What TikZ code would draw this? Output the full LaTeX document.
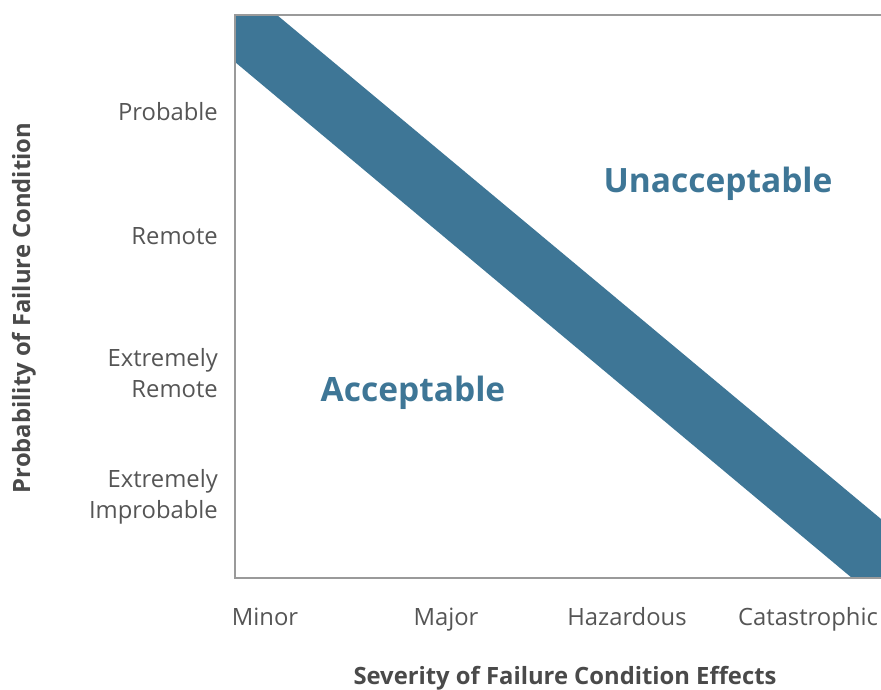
\documentclass[tikz,border=0pt]{standalone}
\usepackage{fontspec}
\setmainfont{Open Sans}
\usetikzlibrary{positioning}
\definecolor{bandblue}{HTML}{3E7696}
\definecolor{framegray}{HTML}{9A9A9A}
\definecolor{textgray}{HTML}{555555}
\definecolor{titlegray}{HTML}{4A4A4A}
\tikzset{
	level/.style = {text = textgray, font = \fontsize{23.8}{31}\selectfont, inner sep = 0pt},
	axistitle/.style = {text = titlegray, font = \fontsize{23.8}{28}\bfseries\selectfont, inner sep = 0pt},
	region/.style = {text = bandblue, font = \fontsize{33.5}{40}\bfseries\selectfont, inner sep = 0pt}
}

\begin{document}
\begin{tikzpicture}[x = 1pt, y = -1pt]
\useasboundingbox (0, 0) rectangle (881, 689);

% band between the two regions
\fill[bandblue] (235, 15) -- (277, 15) -- (881, 519) -- (881, 578) 
-- (852, 578) -- (235, 62) -- cycle;

% frame
\draw[framegray, line width = 2.5pt] (881, 15) -- (235, 15) -- (235, 578) -- (881, 578);

% probability levels
\node[level, anchor = east, align = right] (probable) at (218, 112) 
{Probable};
\node[level, anchor = east, align = right] (remote) at (218, 236) 
{Remote};
\node[level, anchor = east, align = right] (extremote) at (218, 373) 
{Extremely\\Remote};
\node[level, anchor = east, align = right] (extimprob) at (218, 497) 
{Extremely\\Improbable};

% severity levels
\foreach \x/\name/\txt in {
	265/minor/Minor,
	446/major/Major,
	627/hazardous/Hazardous,
	808/catastrophic/Catastrophic
	}
\node[level, anchor = base] (\name) at (\x, 625) {\txt};

% axis titles
\node[axistitle, anchor = base] (severity) at (565, 684) 
{Severity of Failure Condition Effects};
\node[axistitle, rotate = 90] (probability) at (24, 308) 
{Probability of Failure Condition};

% regions
\node[region] (unacceptable) at (718, 184) {Unacceptable};
\node[region] (acceptable) at (413, 393) {Acceptable};

\end{tikzpicture}
\end{document}
